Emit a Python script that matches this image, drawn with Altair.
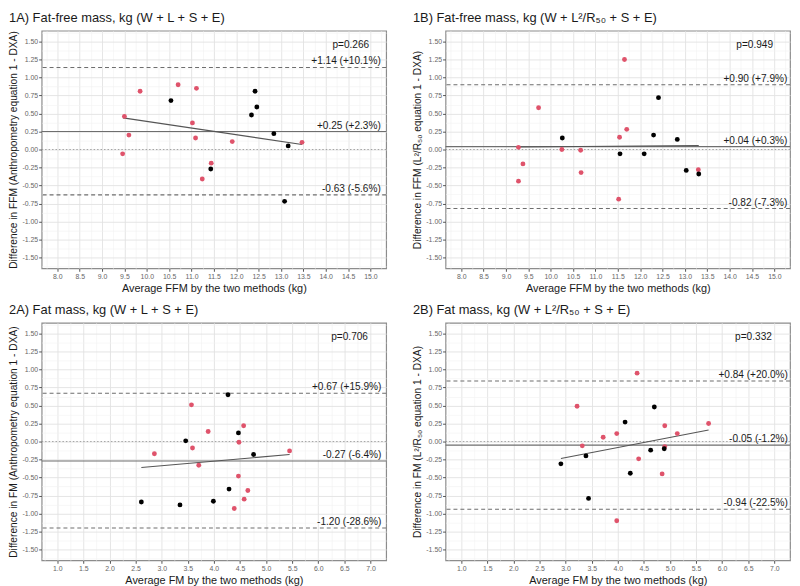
import altair as alt
import pandas as pd

# ---------------- data ----------------
# Panel 1A
a1_red_x = [9.50, 9.60, 9.46, 9.85, 10.70, 11.11, 11.02, 11.09, 11.44, 11.24, 11.91, 13.47]
a1_red_y = [0.46, 0.20, -0.06, 0.81, 0.90, 0.85, 0.37, 0.16, -0.19, -0.41, 0.11, 0.10]
a1_blk_x = [10.54, 11.43, 12.34, 12.42, 12.46, 12.84, 13.16, 13.08]
a1_blk_y = [0.68, -0.27, 0.48, 0.81, 0.59, 0.22, 0.05, -0.72]
a1_reg_x = [9.47, 13.47]
a1_reg_y = [0.44, 0.07]
a1_lines = [1.14, 0.25, -0.63]
a1_labels = ["+1.14 (+10.1%)", "+0.25 (+2.3%)", "-0.63 (-5.6%)"]
a1_p = "p=0.266"

# Panel 1B
b1_red_x = [11.65, 9.73, 9.28, 9.38, 9.28, 10.25, 10.67, 10.68, 11.54, 11.70, 11.52, 13.30]
b1_red_y = [1.25, 0.58, 0.03, -0.20, -0.44, 0.00, -0.01, -0.32, 0.17, 0.28, -0.69, -0.28]
b1_blk_x = [10.26, 11.55, 12.09, 12.30, 12.41, 12.83, 13.03, 13.31]
b1_blk_y = [0.16, -0.06, -0.06, 0.20, 0.72, 0.14, -0.29, -0.34]
b1_reg_x = [9.28, 13.31]
b1_reg_y = [0.035, 0.055]
b1_lines = [0.90, 0.04, -0.82]
b1_labels = ["+0.90 (+7.9%)", "+0.04 (+0.3%)", "-0.82 (-7.3%)"]
b1_p = "p=0.949"

# Panel 2A
a2_red_x = [3.57, 3.89, 3.59, 2.86, 3.71, 4.57, 4.48, 4.47, 4.65, 4.58, 4.39, 5.45]
a2_red_y = [0.51, 0.14, -0.09, -0.17, -0.33, 0.22, -0.01, -0.48, -0.68, -0.80, -0.93, -0.13]
a2_blk_x = [4.27, 3.46, 4.47, 4.76, 4.29, 3.99, 3.35, 2.61]
a2_blk_y = [0.65, 0.01, 0.12, -0.18, -0.66, -0.83, -0.88, -0.84]
a2_reg_x = [2.61, 5.45]
a2_reg_y = [-0.36, -0.18]
a2_lines = [0.67, -0.27, -1.20]
a2_labels = ["+0.67 (+15.9%)", "-0.27 (-6.4%)", "-1.20 (-28.6%)"]
a2_p = "p=0.706"

# Panel 2B
b2_red_x = [4.37, 3.22, 3.72, 3.98, 3.32, 4.40, 4.90, 5.14, 5.74, 4.90, 4.85, 3.98]
b2_red_y = [0.95, 0.49, 0.06, 0.11, -0.06, -0.24, 0.22, 0.11, 0.25, -0.07, -0.45, -1.10]
b2_blk_x = [4.14, 4.70, 2.91, 3.39, 3.44, 4.24, 4.63, 4.89]
b2_blk_y = [0.27, 0.48, -0.31, -0.20, -0.79, -0.44, -0.12, -0.10]
b2_reg_x = [2.91, 5.74]
b2_reg_y = [-0.235, 0.16]
b2_lines = [0.84, -0.05, -0.94]
b2_labels = ["+0.84 (+20.0%)", "-0.05 (-1.2%)", "-0.94 (-22.5%)"]
b2_p = "p=0.332"

# axis tick values (major + minor)
ffm_ticks = [7.75 + 0.25 * i for i in range(31)]
fm_ticks = [0.75 + 0.25 * i for i in range(26)]
y_ticks = [-1.625 + 0.125 * i for i in range(27)]

FONT = "Liberation Sans"
W, H = 348, 240
RED, BLACK = "#DF536B", "#000000"


def make_axis(values, major_mult, fmt, title, title_size):
    minor_test = f"(datum.value*{major_mult}) % 1 != 0"
    return alt.Axis(
        values=values,
        title=title,
        labelExpr=f"{minor_test} ? '' : replace(format(datum.value, '{fmt}'), '\u2212', '-')",
        gridColor={"condition": {"test": minor_test, "value": "#f2f2f2"}, "value": "#e2e2e2"},
        gridWidth={"condition": {"test": minor_test, "value": 0.6}, "value": 0.9},
        tickOpacity={"condition": {"test": minor_test, "value": 0}, "value": 1},
        tickColor="#555555",
        tickSize=3,
        labelFontSize=7,
        labelColor="#666666",
        labelPadding=1,
        labelOverlap=False,
        labelFlush=False,
        titleFontSize=title_size,
        titleFontWeight="normal",
        titleColor="#1a1a1a",
        titlePadding=3,
        domain=False,
    )


def panel(title, xtitle, ytitle, xdom, xticks, red_x, red_y, blk_x, blk_y,
          reg_x, reg_y, lines, labels, ptext, label_x, p_x):
    X = alt.X("x:Q", scale=alt.Scale(domain=xdom, nice=False, zero=False),
              axis=make_axis(xticks, 2, ".1f", xtitle, 11))
    Y = alt.Y("y:Q", scale=alt.Scale(domain=[-1.65, 1.65], nice=False, zero=False),
              axis=make_axis(y_ticks, 4, ".2f", ytitle, 10.3))

    pts = pd.DataFrame({
        "x": red_x + blk_x,
        "y": red_y + blk_y,
        "g": ["red"] * len(red_x) + ["black"] * len(blk_x),
    })
    points = alt.Chart(pts).mark_point(filled=True, size=24, opacity=1, strokeWidth=0).encode(
        x=X, y=Y,
        color=alt.Color("g:N", scale=alt.Scale(domain=["red", "black"], range=[RED, BLACK]), legend=None),
    )

    dashed = alt.Chart(pd.DataFrame({"y": [lines[0], lines[2]]})).mark_rule(
        color="#6e6e6e", strokeDash=[4, 3], strokeWidth=1.1).encode(y=Y)
    mean = alt.Chart(pd.DataFrame({"y": [lines[1]]})).mark_rule(
        color="#6e6e6e", strokeWidth=1.2).encode(y=Y)
    zero = alt.Chart(pd.DataFrame({"y": [0.0]})).mark_rule(
        color="#9a9a9a", strokeDash=[1.5, 2], strokeWidth=0.9).encode(y=Y)

    reg = alt.Chart(pd.DataFrame({"x": reg_x, "y": reg_y})).mark_line(
        color="#555555", strokeWidth=1.1).encode(x=X, y=Y)

    lab = alt.Chart(pd.DataFrame({"x": [label_x] * 3, "y": lines, "t": labels})).mark_text(
        align="right", baseline="alphabetic", dy=-3, fontSize=10.2, font=FONT, color="#1a1a1a"
    ).encode(x=X, y=Y, text="t:N")

    pl = alt.Chart(pd.DataFrame({"x": [p_x], "y": [1.45], "t": [ptext]})).mark_text(
        align="center", baseline="middle", fontSize=10.2, font=FONT, color="#1a1a1a"
    ).encode(x=X, y=Y, text="t:N")

    return alt.layer(zero, dashed, mean, reg, points, lab, pl).properties(
        width=W, height=H,
        title=alt.TitleParams(text=title, anchor="start", fontSize=13, fontWeight="normal",
                              font=FONT, color="#1a1a1a", offset=4),
    )


p1a = panel("1A) Fat-free mass, kg (W + L + S + E)",
            "Average FFM by the two methods (kg)",
            "Difference in FFM (Anthropometry equation 1 - DXA)",
            [7.65, 15.35], ffm_ticks, a1_red_x, a1_red_y, a1_blk_x, a1_blk_y,
            a1_reg_x, a1_reg_y, a1_lines, a1_labels, a1_p, 15.23, 14.56)
p1b = panel("1B) Fat-free mass, kg (W + L\u00b2/R\u2085\u2080 + S + E)",
            "Average FFM by the two methods (kg)",
            "Difference in FFM (L\u00b2/R\u2085\u2080 equation 1 - DXA)",
            [7.65, 15.35], ffm_ticks, b1_red_x, b1_red_y, b1_blk_x, b1_blk_y,
            b1_reg_x, b1_reg_y, b1_lines, b1_labels, b1_p, 15.29, 14.56)
p2a = panel("2A) Fat mass, kg (W + L + S + E)",
            "Average FM by the two methods (kg)",
            "Difference in FM (Anthropometry equation 1 - DXA)",
            [0.7, 7.3], fm_ticks, a2_red_x, a2_red_y, a2_blk_x, a2_blk_y,
            a2_reg_x, a2_reg_y, a2_lines, a2_labels, a2_p, 7.21, 6.6)
p2b = panel("2B) Fat mass, kg (W + L\u00b2/R\u2085\u2080 + S + E)",
            "Average FM by the two methods (kg)",
            "Difference in FM (L\u00b2/R\u2085\u2080 equation 1 - DXA)",
            [0.7, 7.3], fm_ticks, b2_red_x, b2_red_y, b2_blk_x, b2_blk_y,
            b2_reg_x, b2_reg_y, b2_lines, b2_labels, b2_p, 7.26, 6.6)

chart = alt.vconcat(
    alt.hconcat(p1a, p1b, spacing=24),
    alt.hconcat(p2a, p2b, spacing=24),
    spacing=9,
).properties(
    padding=0, background="white"
).configure(
    font=FONT
).configure_view(
    stroke="#8c8c8c", strokeWidth=1.2
)

chart.save("out.html", embed_options={"renderer": "svg", "actions": False})
